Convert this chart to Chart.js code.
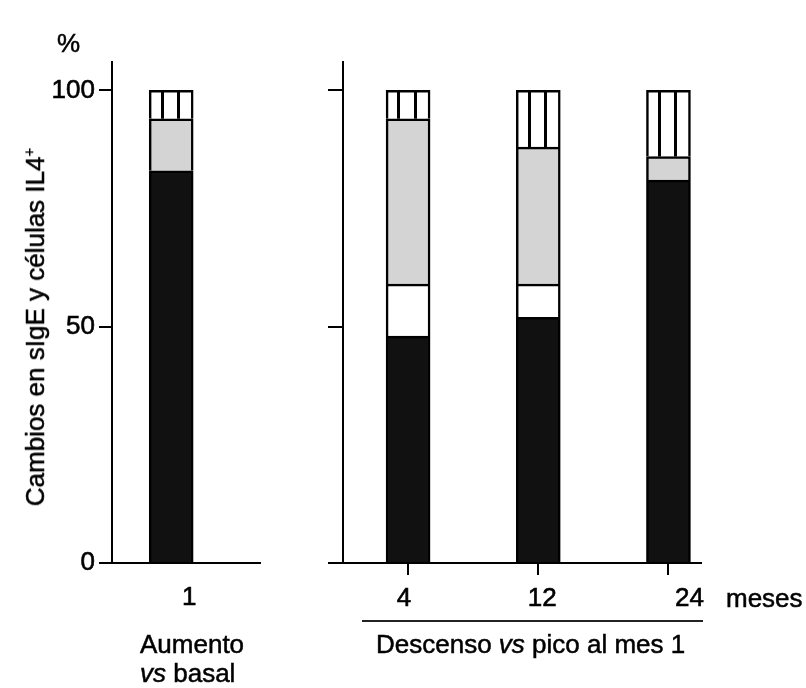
<!DOCTYPE html>
<html><head><meta charset="utf-8">
<script src="https://cdn.jsdelivr.net/npm/chart.js@4.4.1/dist/chart.umd.min.js"></script>
<style>
html,body{margin:0;padding:0;background:#fff;}
#wrap{position:relative;width:806px;height:688px;overflow:hidden;font-family:'Liberation Sans',Arial,sans-serif;color:#000;}
canvas{position:absolute;top:0;}
.t{position:absolute;font-size:26px;line-height:29px;white-space:nowrap;-webkit-text-stroke:0.5px #000;}
#ytitle{position:absolute;left:35px;top:327px;transform:translate(-50%,-50%) rotate(-90deg);font-size:26px;line-height:30px;white-space:nowrap;-webkit-text-stroke:0.5px #000;}
#ytitle sup{font-size:15px;line-height:0;vertical-align:10px;-webkit-text-stroke:0.3px #000;}
</style></head><body>
<div id="wrap">
<canvas id="cL" width="300" height="688" style="left:0"></canvas>
<canvas id="cR" width="506" height="688" style="left:300px"></canvas>
<div class="t" style="left:57px;top:29px">%</div>
<div id="ytitle"></div>
<div class="t" style="left:726px;top:584px">meses</div>
<div style="position:absolute;left:362px;top:620px;width:341px;height:2px;background:#222"></div>
<div class="t" style="left:140px;top:630px">Aumento<br><i>vs</i> basal</div>
<div class="t" style="left:376px;top:630px">Descenso <i>vs</i> pico al mes 1</div>
</div>
<script>
// ---- data ----
const leftMonths = ['1'];
const rightMonths = ['4', '12', '24'];
const yTickValues = [0, 50, 100];
const yTitleMain = 'Cambios en sIgE y células IL4';
const yTitleSup = '+';

const blackL = [83];
const whiteL = [null];
const grayL = [11];
const stripedL = [6];

const blackR = [48, 52, 81];
const whiteR = [11, 7, null];
const grayR = [35, 29, 5];
const stripedR = [6, 12, 14];

const FONT = "'Liberation Sans', Arial, sans-serif";

(function () {
  const el = document.getElementById('ytitle');
  el.textContent = yTitleMain;
  const s = document.createElement('sup');
  s.textContent = yTitleSup;
  el.appendChild(s);
})();

const stripePlugin = {
  id: 'stripes',
  afterDatasetsDraw(chart) {
    const ctx = chart.ctx;
    const meta = chart.getDatasetMeta(3);
    ctx.save();
    ctx.strokeStyle = '#000';
    ctx.lineWidth = 3;
    meta.data.forEach(el => {
      const p = el.getProps(['x', 'y', 'base', 'width'], true);
      if (p.y == null || isNaN(p.y)) return;
      const left = p.x - p.width / 2;
      [0.28, 0.65].forEach(f => {
        const xx = Math.round(left + p.width * f) + 0.5;
        ctx.beginPath(); ctx.moveTo(xx, p.y); ctx.lineTo(xx, p.base); ctx.stroke();
      });
    });
    ctx.restore();
  }
};

const xLabelPlugin = {
  id: 'xlabels',
  afterDraw(chart, args, opts) {
    const sc = chart.scales.x;
    const ctx = chart.ctx;
    ctx.save();
    ctx.font = '26px ' + FONT;
    ctx.fillStyle = '#000';
    ctx.strokeStyle = '#000';
    ctx.lineWidth = 0.6;
    ctx.textAlign = 'center';
    ctx.textBaseline = 'middle';
    sc.ticks.forEach((t, i) => {
      const px = sc.getPixelForValue(t.value) + (opts.offsets[i] || 0);
      ctx.fillText(t.label, px, opts.y);
      ctx.strokeText(t.label, px, opts.y);
    });
    ctx.restore();
  }
};

function makeDatasets(xs, black, white, gray, striped) {
  const mk = (arr, color, label) => ({
    label, data: arr.map((v, i) => ({ x: xs[i], y: v })),
    backgroundColor: color, borderColor: '#000', borderWidth: 2.5,
    barThickness: 44
  });
  return [
    mk(black, '#111111', 'black'),
    mk(white, '#ffffff', 'white'),
    mk(gray, '#d4d4d4', 'gray'),
    mk(striped, '#ffffff', 'striped')
  ];
}

function yScale(showLabels, width, tickLen) {
  return {
    type: 'linear', stacked: true, min: 0, max: 106,
    afterBuildTicks: s => { s.ticks = yTickValues.map(v => ({ value: v })); },
    afterFit: s => { s.width = width; },
    ticks: { display: showLabels, color: '#000', font: { size: 26, family: FONT }, padding: 4,
             textStrokeColor: '#000', textStrokeWidth: 0.6 },
    grid: { drawOnChartArea: false, drawTicks: true, tickLength: tickLen, lineWidth: 2, color: '#000' },
    border: { display: true, width: 2, color: '#000' },
    title: { display: false }
  };
}

function xScale(xs, labels, min, max, tickLen) {
  return {
    type: 'linear', stacked: true, min, max, offset: false,
    afterBuildTicks: s => { s.ticks = xs.map(v => ({ value: v })); },
    afterFit: s => { s.height = 125; },
    ticks: { display: false, callback: (v, i) => labels[i] },
    grid: { display: true, offset: false, drawOnChartArea: false, drawTicks: tickLen > 0, tickLength: tickLen, lineWidth: 2, color: '#000' },
    border: { display: true, width: 2, color: '#000' }
  };
}

const common = {
  responsive: false, animation: false, devicePixelRatio: 1,
  plugins: { legend: { display: false }, tooltip: { enabled: false } }
};

// Left panel: "Aumento vs basal"
const xsL = leftMonths.map(m => Number(m));
new Chart(document.getElementById('cL'), {
  type: 'bar',
  data: { datasets: makeDatasets(xsL, blackL, whiteL, grayL, stripedL) },
  options: Object.assign({}, common, {
    layout: { padding: { top: 62, right: 40, left: 0, bottom: 0 } },
    scales: { x: xScale(xsL, leftMonths, 0, 2.5, 0), y: yScale(true, 112, 13) },
    plugins: Object.assign({}, common.plugins, { xlabels: { offsets: [18], y: 598 } })
  }),
  plugins: [stripePlugin, xLabelPlugin]
});

// Right panel: "Descenso vs pico al mes 1"
const xsR = rightMonths.map((m, i) => i);
new Chart(document.getElementById('cR'), {
  type: 'bar',
  data: { datasets: makeDatasets(xsR, blackR, whiteR, grayR, stripedR) },
  options: Object.assign({}, common, {
    layout: { padding: { top: 62, right: 105, left: 0, bottom: 0 } },
    scales: { x: xScale(xsR, rightMonths, -0.5, 2.25, 12), y: yScale(false, 43, 15) },
    plugins: Object.assign({}, common.plugins, { xlabels: { offsets: [-4, 4, 21], y: 599 } })
  }),
  plugins: [stripePlugin, xLabelPlugin]
});
</script>
</body></html>
